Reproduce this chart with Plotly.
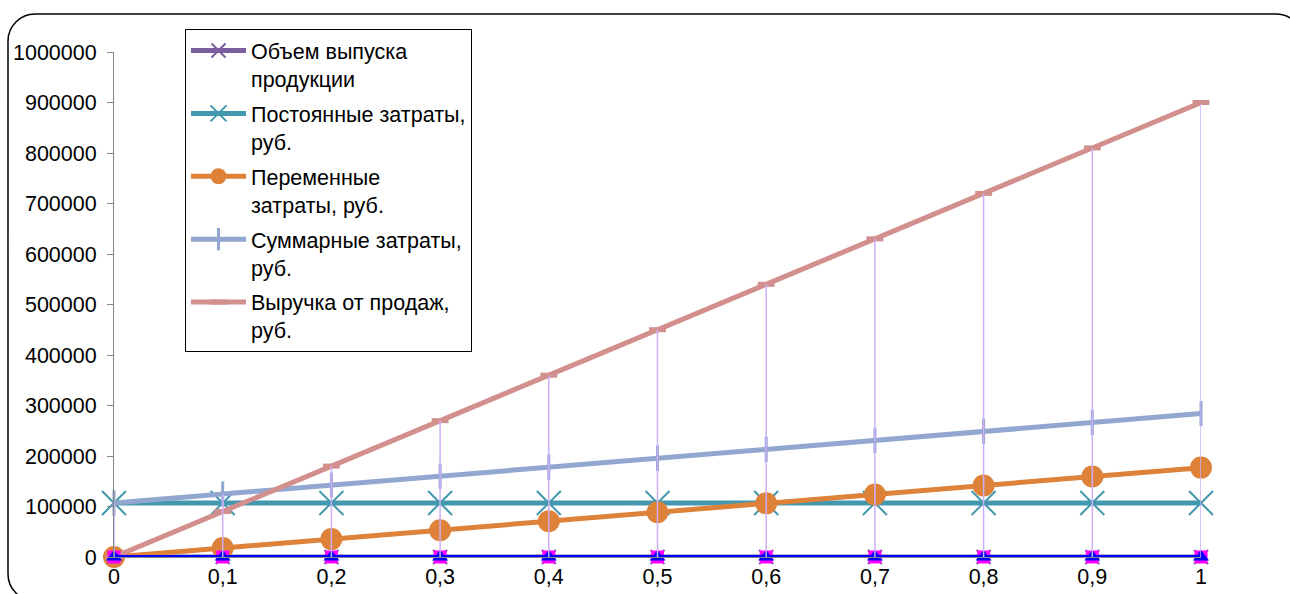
import plotly.graph_objects as go

# Объем выпуска (доля) по оси X
volume_share = [0, 0.1, 0.2, 0.3, 0.4, 0.5, 0.6, 0.7, 0.8, 0.9, 1]
x_labels = ["0", "0,1", "0,2", "0,3", "0,4", "0,5", "0,6", "0,7", "0,8", "0,9", "1"]

# Ряды данных, руб.
output_volume = [0, 0.1, 0.2, 0.3, 0.4, 0.5, 0.6, 0.7, 0.8, 0.9, 1]
fixed_costs = [107000, 107000, 107000, 107000, 107000, 107000, 107000, 107000, 107000, 107000, 107000]
variable_costs = [0, 17700, 35400, 53100, 70800, 88500, 106200, 123900, 141600, 159300, 177000]
total_costs = [107000, 124700, 142400, 160100, 177800, 195500, 213200, 230900, 248600, 266300, 284000]
revenue = [0, 90000, 180000, 270000, 360000, 450000, 540000, 630000, 720000, 810000, 900000]
series_6 = [0, 0, 0, 0, 0, 0, 0, 0, 0, 0, 0]
series_7 = [0, 0, 0, 0, 0, 0, 0, 0, 0, 0, 0]

y_ticks = [0, 100000, 200000, 300000, 400000, 500000, 600000, 700000, 800000, 900000, 1000000]
y_labels = [str(v) for v in y_ticks]

FONT = "Liberation Sans, Arial, sans-serif"
FS = 21.5
W, H = 1290, 594
ML, MR, MT, MB = 114, 89, 52, 37
PW, PH = W - ML - MR, H - MT - MB


def px(x):
    return (x - ML) / PW


def py(y):
    return (H - MB - y) / PH


fig = go.Figure()

fig.add_trace(go.Scatter(
    x=volume_share, y=output_volume, name="Объем выпуска<br>продукции",
    mode="lines+markers", line=dict(color="#7B5E9E", width=5),
    marker=dict(symbol="x-thin-open", size=14, line=dict(color="#7B5E9E", width=2)),
    legendgroup="a", cliponaxis=False,
))
fig.add_trace(go.Scatter(
    x=volume_share, y=fixed_costs, name="Постоянные затраты,<br>руб.",
    mode="lines+markers", line=dict(color="#4298AF", width=5),
    marker=dict(symbol="x-thin-open", size=24, line=dict(color="#4298AF", width=2)),
    legendgroup="b", cliponaxis=False,
))
fig.add_trace(go.Scatter(
    x=volume_share, y=variable_costs, name="Переменные<br>затраты, руб.",
    mode="lines+markers", line=dict(color="#DE8239", width=5),
    marker=dict(symbol="circle", size=22, color="#DE8239"),
    legendgroup="c", cliponaxis=False,
))
fig.add_trace(go.Scatter(
    x=volume_share, y=total_costs, name="Суммарные затраты,<br>руб.",
    mode="lines+markers", line=dict(color="#91A7CF", width=5),
    marker=dict(symbol="line-ns-open", size=18, line=dict(color="#B3C2E4", width=3)),
    legendgroup="d", cliponaxis=False,
))
fig.add_trace(go.Scatter(
    x=volume_share, y=revenue, name="Выручка от продаж,<br>руб.",
    mode="lines+markers", line=dict(color="#D38F8E", width=5),
    marker=dict(symbol="line-ew-open", size=12, line=dict(color="#D38F8E", width=5)),
    legendgroup="e", cliponaxis=False,
))
fig.add_trace(go.Scatter(
    x=volume_share, y=series_6, name="Ряд6", showlegend=False,
    mode="lines+markers", line=dict(color="#FF00FF", width=3),
    marker=dict(symbol="square", size=13, color="#FF00FF"),
    cliponaxis=False,
))
fig.add_trace(go.Scatter(
    x=volume_share, y=series_7, name="Ряд7", showlegend=False,
    mode="lines+markers", line=dict(color="#0000FF", width=4),
    marker=dict(symbol="triangle-up", size=14, color="#0000FF"),
    cliponaxis=False,
))

# Линии проекции: от наибольшего значения в точке до оси X
all_series = [output_volume, fixed_costs, variable_costs, total_costs, revenue, series_6, series_7]
drop_x, drop_y = [], []
for i, xv in enumerate(volume_share):
    top = max(s[i] for s in all_series)
    drop_x += [xv, xv, None]
    drop_y += [0, top, None]
fig.add_trace(go.Scatter(
    x=drop_x, y=drop_y, mode="lines", showlegend=False, hoverinfo="skip",
    line=dict(color="#CDAEF9", width=1.5), cliponaxis=False,
))

# Рамка области диаграммы со скруглёнными углами
x0, x1, y0, y1, r = 8, 1303, 14, 601, 27
k = 0.45
path = (
    f"M {px(x0 + r)},{py(y0)} L {px(x1 - r)},{py(y0)} "
    f"C {px(x1 - r * k)},{py(y0)} {px(x1)},{py(y0 + r * k)} {px(x1)},{py(y0 + r)} "
    f"L {px(x1)},{py(y1 - r)} "
    f"C {px(x1)},{py(y1 - r * k)} {px(x1 - r * k)},{py(y1)} {px(x1 - r)},{py(y1)} "
    f"L {px(x0 + r)},{py(y1)} "
    f"C {px(x0 + r * k)},{py(y1)} {px(x0)},{py(y1 - r * k)} {px(x0)},{py(y1 - r)} "
    f"L {px(x0)},{py(y0 + r)} "
    f"C {px(x0)},{py(y0 + r * k)} {px(x0 + r * k)},{py(y0)} {px(x0 + r)},{py(y0)} Z"
)
fig.add_shape(type="path", xref="paper", yref="paper", path=path,
              line=dict(color="#000000", width=1.5), layer="below")

fig.update_layout(
    width=W, height=H,
    margin=dict(l=ML, r=MR, t=MT, b=MB, autoexpand=False),
    paper_bgcolor="#FFFFFF", plot_bgcolor="#FFFFFF",
    font=dict(family=FONT, size=FS, color="#000000"),
    showlegend=True,
    legend=dict(
        xref="container", yref="container",
        x=185 / W, y=1 - 29 / H, xanchor="left", yanchor="top",
        bordercolor="#000000", borderwidth=1, bgcolor="#FFFFFF",
        font=dict(family=FONT, size=FS, color="#000000"),
        valign="top", tracegroupgap=4, itemwidth=55, maxheight=420,
    ),
    xaxis=dict(
        range=[0, 1], tickvals=volume_share, ticktext=x_labels,
        showgrid=False, zeroline=False, showline=True, linecolor="#868686",
        ticks="", tickfont=dict(family=FONT, size=FS), automargin=False,
    ),
    yaxis=dict(
        range=[0, 1000000], tickvals=y_ticks, ticktext=y_labels,
        showgrid=False, zeroline=False, showline=True, linecolor="#868686",
        linewidth=1, ticks="outside", ticklen=6, tickcolor="#868686",
        ticklabelstandoff=6, tickfont=dict(family=FONT, size=FS), automargin=False,
    ),
)

fig.write_html("out.html")
